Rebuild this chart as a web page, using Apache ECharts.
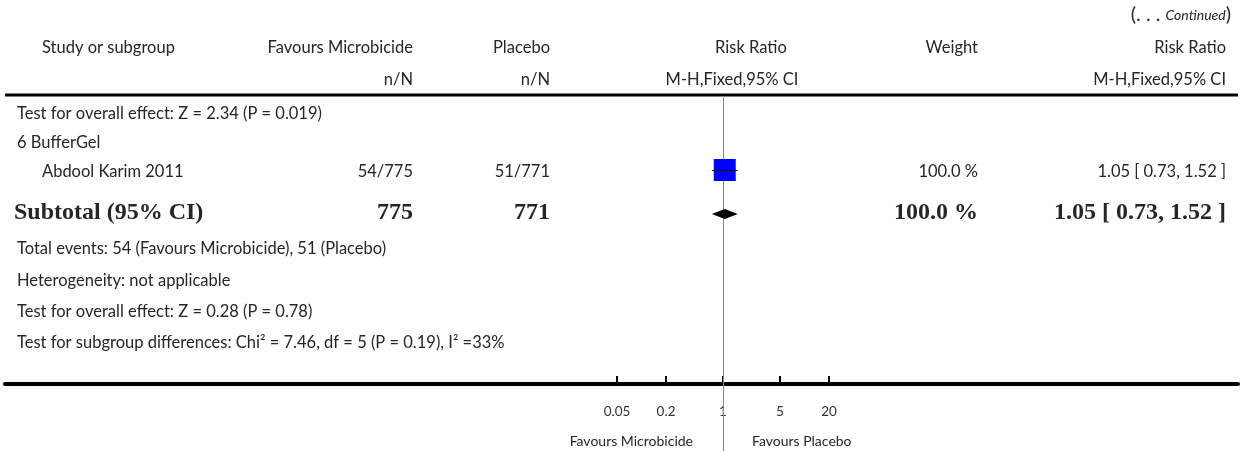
<!DOCTYPE html>
<html>
<head>
<meta charset="utf-8">
<script src="https://cdn.jsdelivr.net/npm/echarts@6/dist/echarts.min.js"></script>
<style>
  html, body { margin: 0; padding: 0; background: #fff; }
  #chart { width: 1247px; height: 451px; }
</style>
</head>
<body>
<div id="chart"></div>
<script>
// ---- Study data (BufferGel subgroup) ----
const studyNames = ['Abdool Karim 2011'];
const eventsMicrobicide = [54];
const totalMicrobicide = [775];
const eventsPlacebo = [51];
const totalPlacebo = [771];
const studyWeight = [100.0];
const studyRR = [1.05];
const studyLow = [0.73];
const studyHigh = [1.52];

// ---- Subtotal (pooled, M-H fixed) ----
const subtotalN = [775, 771];
const subtotalWeight = [100.0];
const subtotalRR = [1.05];
const subtotalLow = [0.73];
const subtotalHigh = [1.52];

// ---- Axis ----
const axisTicks = [0.05, 0.2, 1, 5, 20];
const axisSideLabels = ['Favours Microbicide', 'Favours Placebo'];

// ---- Header and footnote text ----
const headerTop = ['Study or subgroup', 'Favours Microbicide', 'Placebo', 'Risk Ratio', 'Weight', 'Risk Ratio'];
const headerSub = ['n/N', 'n/N', 'M-H,Fixed,95% CI', 'M-H,Fixed,95% CI'];
const prevOverallTest = 'Test for overall effect: Z = 2.34 (P = 0.019)';
const subgroupTitle = '6 BufferGel';
const footLines = [
  'Total events: 54 (Favours Microbicide), 51 (Placebo)',
  'Heterogeneity: not applicable',
  'Test for overall effect: Z = 0.28 (P = 0.78)',
  'Test for subgroup differences: Chi\u00B2 = 7.46, df = 5 (P = 0.19), I\u00B2 =33%'
];

// ---- Layout ----
const W = 1247, H = 451;
const lineLeft = 5, lineRight = 1238;
const headerLineY = 95;
const axisY = 384;          // pixel row of the bottom axis line
const onePx = 723;          // pixel column of RR = 1
const pxPerDecade = 81.5;
const xMin = Math.pow(10, -(onePx - lineLeft) / pxPerDecade);
const xMax = Math.pow(10, (lineRight - onePx) / pxPerDecade);
const gridTop = headerLineY + 1;

const colN1 = 413, colN2 = 550, colW = 978, colRR = 1226;
const leftX = 17, indentX = 42;
const rowPx = { prevTest: 114, group: 143, study: 170, subtotal: 213, foot: [249, 281, 312, 343] };
const rowY = px => axisY - px;   // y-axis value for a given row

const textColor = '#262626';
const fontSans = '16.5px Lato, "Open Sans", sans-serif';
const fontBold = 'bold 24px "Liberation Serif", serif';

function fmt2(v) { return v.toFixed(2); }
function ciText(rr, lo, hi) { return fmt2(rr) + ' [ ' + fmt2(lo) + ', ' + fmt2(hi) + ' ]'; }

function txt(text, x, y, align, font) {
  return {
    type: 'text', x: x, y: y, silent: true,
    style: { text: text, fill: textColor, font: font || fontSans, textAlign: align || 'left', textVerticalAlign: 'middle' }
  };
}

const graphics = [];
// continuation marker
graphics.push({
  type: 'text', x: 1231, y: 15, silent: true,
  style: {
    text: '{a|(. . . }{b|Continued}{a|)}', textAlign: 'right', textVerticalAlign: 'middle',
    rich: {
      a: { font: '20px Lato, sans-serif', fill: textColor },
      b: { font: 'italic 14px Lato, sans-serif', fill: textColor }
    }
  }
});
// header rows
graphics.push(txt(headerTop[0], indentX, 48, 'left'));
graphics.push(txt(headerTop[1], colN1, 48, 'right'));
graphics.push(txt(headerTop[2], colN2, 48, 'right'));
graphics.push(txt(headerTop[3], 751, 48, 'center'));
graphics.push(txt(headerTop[4], colW, 48, 'right'));
graphics.push(txt(headerTop[5], colRR, 48, 'right'));
graphics.push(txt(headerSub[0], colN1, 80, 'right'));
graphics.push(txt(headerSub[1], colN2, 80, 'right'));
graphics.push(txt(headerSub[2], 732, 80, 'center'));
graphics.push(txt(headerSub[3], colRR, 80, 'right'));
// header rule
graphics.push({ type: 'line', silent: true, shape: { x1: lineLeft, y1: headerLineY, x2: lineRight, y2: headerLineY }, style: { stroke: '#000', lineWidth: 3 } });

// body rows
graphics.push(txt(prevOverallTest, leftX, rowPx.prevTest, 'left'));
graphics.push(txt(subgroupTitle, leftX, rowPx.group, 'left'));
studyNames.forEach((name, i) => {
  const y = rowPx.study + 2;
  graphics.push(txt(name, indentX, y, 'left'));
  graphics.push(txt(eventsMicrobicide[i] + '/' + totalMicrobicide[i], colN1, y, 'right'));
  graphics.push(txt(eventsPlacebo[i] + '/' + totalPlacebo[i], colN2, y, 'right'));
  graphics.push(txt(studyWeight[i].toFixed(1) + ' %', colW, y, 'right'));
  graphics.push(txt(ciText(studyRR[i], studyLow[i], studyHigh[i]), colRR, y, 'right'));
});
graphics.push(txt('Subtotal (95% CI)', leftX - 3, rowPx.subtotal, 'left', fontBold));
graphics.push(txt(String(subtotalN[0]), colN1, rowPx.subtotal, 'right', fontBold));
graphics.push(txt(String(subtotalN[1]), colN2, rowPx.subtotal, 'right', fontBold));
graphics.push(txt(subtotalWeight[0].toFixed(1) + ' %', colW, rowPx.subtotal, 'right', fontBold));
graphics.push(txt(ciText(subtotalRR[0], subtotalLow[0], subtotalHigh[0]), colRR, rowPx.subtotal, 'right', fontBold));
footLines.forEach((line, i) => graphics.push(txt(line, leftX, rowPx.foot[i], 'left')));

// side labels under the axis
graphics.push(txt(axisSideLabels[0], onePx - 30, 441, 'right', '14px Lato, sans-serif'));
graphics.push(txt(axisSideLabels[1], onePx + 29, 441, 'left', '14px Lato, sans-serif'));

const chart = echarts.init(document.getElementById('chart'), null, { renderer: 'canvas' });

chart.setOption({
  animation: false,
  backgroundColor: '#fff',
  grid: { left: lineLeft, right: W - lineRight, top: gridTop, bottom: H - axisY, outerBoundsMode: 'none', containLabel: false },
  xAxis: {
    type: 'log', logBase: 10, min: xMin, max: xMax,
    axisLine: { onZero: false, lineStyle: { color: '#000', width: 4 } },
    axisTick: { customValues: axisTicks, inside: true, length: 8, lineStyle: { color: '#000', width: 2 } },
    axisLabel: {
      customValues: axisTicks, margin: 21, color: '#333',
      fontFamily: 'Lato, sans-serif', fontSize: 13.5,
      formatter: v => String(+(+v).toPrecision(3))
    },
    splitLine: { show: false }, minorTick: { show: false }
  },
  yAxis: { type: 'value', min: 0, max: axisY - gridTop, show: false, splitLine: { show: false } },
  graphic: graphics,
  series: [
    {
      // line of no effect, running from the header rule to the page bottom
      type: 'custom', z: 1, silent: true, clip: false,
      data: [[1]],
      renderItem: (params, api) => {
        const x = Math.round(api.coord([api.value(0), 0])[0]) + 0.5;
        return {
          type: 'line',
          shape: { x1: x, y1: params.coordSys.y, x2: x, y2: H },
          style: { stroke: '#8a8a8a', lineWidth: 1 }
        };
      }
    },
    {
      // study boxes, sized by weight
      type: 'scatter', z: 3, silent: true,
      symbol: 'rect',
      symbolSize: (val, p) => 22 * Math.sqrt(studyWeight[p.dataIndex] / 100),
      itemStyle: { color: '#0000ff', opacity: 1 },
      data: studyRR.map((v, i) => [v, rowY(rowPx.study)])
    },
    {
      // study confidence intervals
      type: 'custom', z: 4, silent: true,
      data: studyRR.map((v, i) => [v, studyLow[i], studyHigh[i], rowY(rowPx.study)]),
      renderItem: (params, api) => {
        const c = api.coord([api.value(0), api.value(3)]);
        const l = api.coord([api.value(1), api.value(3)]);
        const r = api.coord([api.value(2), api.value(3)]);
        return {
          type: 'group', children: [
            { type: 'line', shape: { x1: l[0], y1: c[1] + 0.5, x2: r[0], y2: c[1] + 0.5 }, style: { stroke: '#111', lineWidth: 1 } },
            { type: 'line', shape: { x1: c[0] + 0.5, y1: c[1] - 2.5, x2: c[0] + 0.5, y2: c[1] + 3.5 }, style: { stroke: '#111', lineWidth: 1 } }
          ]
        };
      }
    },
    {
      // pooled estimate diamond
      type: 'custom', z: 4, silent: true,
      data: subtotalRR.map((v, i) => [v, subtotalLow[i], subtotalHigh[i], rowY(rowPx.subtotal + 1)]),
      renderItem: (params, api) => {
        const c = api.coord([api.value(0), api.value(3)]);
        const l = api.coord([api.value(1), api.value(3)]);
        const r = api.coord([api.value(2), api.value(3)]);
        return {
          type: 'polygon',
          shape: { points: [[l[0], c[1]], [c[0], c[1] - 5], [r[0], c[1]], [c[0], c[1] + 5]] },
          style: { fill: '#000' }
        };
      }
    }
  ]
});
</script>
</body>
</html>
